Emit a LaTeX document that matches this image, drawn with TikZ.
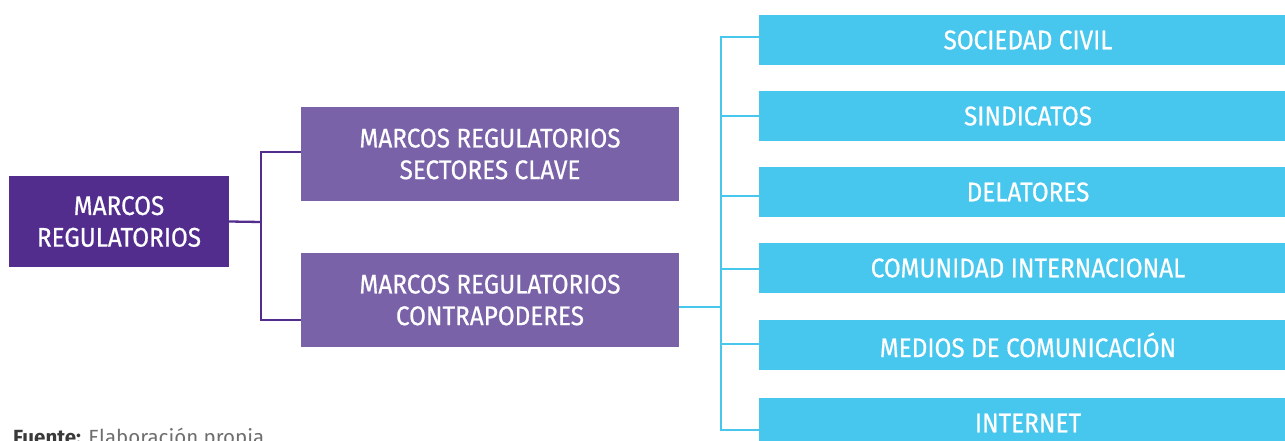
\documentclass[tikz,border=0pt]{standalone}
\usepackage{fontspec}
\setmainfont{Fira Sans}
\newfontfamily\boxfont[FakeStretch=0.9,FakeBold=0.6]{Fira Sans}
\definecolor{mainpurple}{HTML}{532D8E}
\definecolor{midpurple}{HTML}{7A62A9}
\definecolor{skyblue}{HTML}{48C7EE}
\definecolor{darktxt}{HTML}{3A3A3A}
\definecolor{greytxt}{HTML}{6E6E6E}
\begin{document}
\begin{tikzpicture}[x=1pt,y=-1pt,
  boxbase/.style={rectangle, inner sep=0pt, text=white, align=center,
    font=\boxfont\fontsize{27}{31.7}\selectfont},
  mainbox/.style={boxbase, fill=mainpurple, minimum width=220pt, minimum height=91pt},
  midbox/.style={boxbase, fill=midpurple, minimum width=378pt, minimum height=94pt},
  cyanbox/.style={boxbase, fill=skyblue, minimum width=538pt, minimum height=50pt},
  pline/.style={draw=mainpurple, line width=2.3pt},
  cline/.style={draw=skyblue, line width=2.3pt}]
\useasboundingbox (0,0) rectangle (1285,441);
\fill[white] (0,0) rectangle (1285,441);

\node[mainbox] (main) at (119,221.5) {MARCOS\\REGULATORIOS};
\node[midbox] (b2) at (490,154) {MARCOS REGULATORIOS\\SECTORES CLAVE};
\node[midbox] (b3) at (490,300) {MARCOS REGULATORIOS\\CONTRAPODERES};

\node[cyanbox] (c1) at (1028,40) {SOCIEDAD CIVIL};
\node[cyanbox] (c2) at (1028,116) {SINDICATOS};
\node[cyanbox] (c3) at (1028,192) {DELATORES};
\node[cyanbox] (c4) at (1028,268) {COMUNIDAD INTERNACIONAL};
\node[cyanbox] (c5) at (1028,345) {MEDIOS DE COMUNICACIÓN};
\node[cyanbox] (c6) at (1028,423) {INTERNET};

\coordinate (pj) at (261,222);
\coordinate (cj) at (721,307);

\draw[pline] (main.east) -- (pj);
\draw[pline] ([yshift=2pt]b2.west) -| (pj) |- ([yshift=-20pt]b3.west);

\draw[cline] ([yshift=-7pt]b3.east) -- (cj);
\draw[cline] (cj) |- ([yshift=3pt]c1.west);
\draw[cline] (cj) |- (c2.west);
\draw[cline] (cj) |- ([yshift=-4pt]c3.west);
\draw[cline] (cj) |- ([yshift=-1pt]c4.west);
\draw[cline] (cj) |- ([yshift=1pt]c5.west);
\draw[cline] (cj) |- ([yshift=-7pt]c6.west);

\node[anchor=base west, inner sep=0pt, font=\fontsize{20.5}{24}\selectfont] (src) at (13,444.5)
  {\textcolor{darktxt}{\textbf{Fuente:}} \textcolor{greytxt}{Elaboración propia}};
\end{tikzpicture}
\end{document}
